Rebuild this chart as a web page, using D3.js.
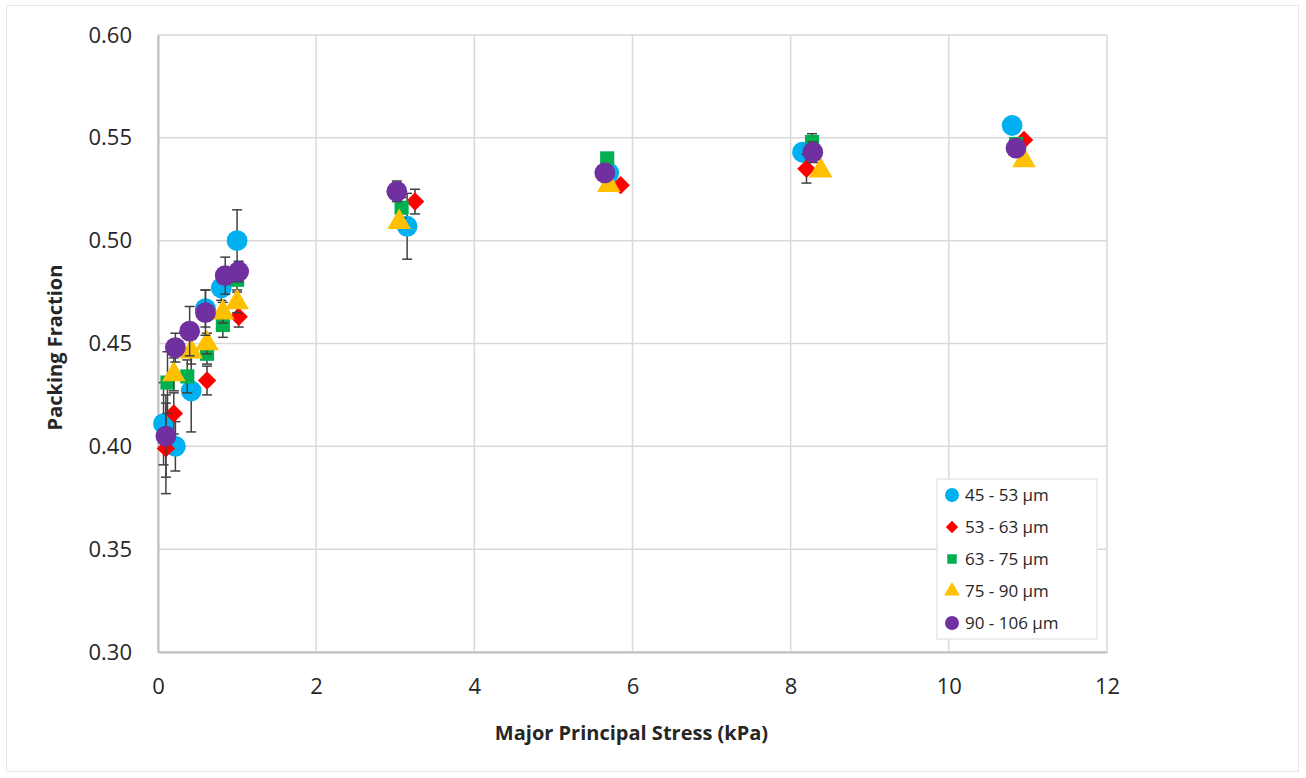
<!DOCTYPE html>
<html>
<head>
<meta charset="utf-8">
<script src="https://cdn.jsdelivr.net/npm/d3@7"></script>
<style>
  body { margin: 0; background: #fff; }
  svg text { font-family: "Open Sans", "Liberation Sans", sans-serif; fill: #262626; }
</style>
</head>
<body>
<svg id="chart" width="1306" height="778"></svg>
<script>
// ---- data ----
var seriesNames = ["45 - 53 \u00b5m", "53 - 63 \u00b5m", "63 - 75 \u00b5m", "75 - 90 \u00b5m", "90 - 106 \u00b5m"];

var stress45 = [0.07, 0.22, 0.42, 0.6, 0.8, 1.0, 3.15, 5.7, 8.15, 10.8];
var pack45   = [0.411, 0.400, 0.427, 0.467, 0.477, 0.500, 0.507, 0.533, 0.543, 0.556];
var err45    = [0.020, 0.012, 0.020, 0.009, 0.006, 0.015, 0.016, 0, 0, 0];

var stress53 = [0.1, 0.2, 0.62, 1.02, 3.25, 5.85, 8.2, 10.95];
var pack53   = [0.399, 0.416, 0.432, 0.463, 0.519, 0.527, 0.535, 0.549];
var err53    = [0.022, 0.010, 0.007, 0.005, 0.006, 0, 0.007, 0];

var stress63 = [0.12, 0.37, 0.62, 0.82, 1.0, 3.08, 5.68, 8.27, 10.85];
var pack63   = [0.431, 0.434, 0.445, 0.459, 0.481, 0.516, 0.540, 0.548, 0.547];
var err63    = [0.015, 0.008, 0.005, 0.006, 0.005, 0.005, 0, 0.004, 0];

var stress75 = [0.2, 0.42, 0.62, 0.82, 1.0, 3.05, 5.7, 8.38, 10.95];
var pack75   = [0.435, 0.446, 0.450, 0.465, 0.470, 0.509, 0.527, 0.534, 0.539];
var err75    = [0.008, 0.006, 0.005, 0.005, 0.005, 0, 0, 0, 0];

var stress90 = [0.1, 0.22, 0.4, 0.6, 0.85, 1.02, 3.02, 5.65, 8.28, 10.85];
var pack90   = [0.405, 0.448, 0.456, 0.465, 0.483, 0.485, 0.524, 0.533, 0.543, 0.545];
var err90    = [0.020, 0.007, 0.012, 0.011, 0.009, 0.005, 0.005, 0, 0.005, 0];

var xTicks = [0, 2, 4, 6, 8, 10, 12];
var yTicks = [0.30, 0.35, 0.40, 0.45, 0.50, 0.55, 0.60];

var colors = ["#00B0F0", "#FF0000", "#00B050", "#FFC000", "#7030A0"];
// 다이아몬드는 정사각형을 45도 회전
var shapes = [d3.symbolCircle, d3.symbolSquare, d3.symbolSquare, d3.symbolTriangle, d3.symbolCircle];
var rotates = [0, 45, 0, 0, 0];
var sizes  = [340, 170, 200, 240, 340];

var series = [
  { xs: stress45, ys: pack45, es: err45 },
  { xs: stress53, ys: pack53, es: err53 },
  { xs: stress63, ys: pack63, es: err63 },
  { xs: stress75, ys: pack75, es: err75 },
  { xs: stress90, ys: pack90, es: err90 }
].map(function(s, i) {
  return {
    name: seriesNames[i],
    points: s.xs.map(function(x, j) { return { x: x, y: s.ys[j], e: s.es[j] }; })
  };
});

// ---- layout ----
var svg = d3.select("#chart");
svg.append("rect").attr("x", 0).attr("y", 0).attr("width", 1306).attr("height", 778).attr("fill", "#fff");
svg.append("rect").attr("x", 6.5).attr("y", 5.5).attr("width", 1292).attr("height", 766)
  .attr("fill", "none").attr("stroke", "#e6e6e6");

var plotL = 158, plotR = 1107, plotT = 35, plotB = 652;

var x = d3.scaleLinear().domain([0, 12]).range([plotL, plotR]);
var y = d3.scaleLinear().domain([0.30, 0.60]).range([plotB, plotT]);

// 격자
svg.append("g").selectAll("line").data(xTicks).enter().append("line")
  .attr("x1", d => x(d)).attr("x2", d => x(d))
  .attr("y1", plotT).attr("y2", plotB)
  .attr("stroke", "#d9d9d9").attr("stroke-width", 1.5);
svg.append("g").selectAll("line").data(yTicks).enter().append("line")
  .attr("x1", plotL).attr("x2", plotR)
  .attr("y1", d => y(d)).attr("y2", d => y(d))
  .attr("stroke", "#d9d9d9").attr("stroke-width", 1.5);

// axes
var xAxis = svg.append("g")
  .attr("transform", `translate(0,${plotB})`)
  .call(d3.axisBottom(x).tickValues(xTicks).tickSize(0).tickPadding(26).tickFormat(d3.format("d")));
var yAxis = svg.append("g")
  .attr("transform", `translate(${plotL},0)`)
  .call(d3.axisLeft(y).tickValues(yTicks).tickSize(0).tickPadding(26).tickFormat(d3.format(".2f")));
[xAxis, yAxis].forEach(function(a) {
  a.select(".domain").attr("stroke", "#bfbfbf").attr("stroke-width", 2);
  a.selectAll("text").style("font-size", "22px").style("fill", "#262626");
});

// axis titles
svg.append("text")
  .attr("x", (plotL + plotR) / 2 - 1)
  .attr("y", 740)
  .attr("text-anchor", "middle")
  .style("font-size", "20px")
  .style("font-weight", "bold")
  .text("Major Principal Stress (kPa)");

svg.append("text")
  .attr("transform", `translate(62,${(plotT + plotB) / 2 + 4}) rotate(-90)`)
  .attr("text-anchor", "middle")
  .style("font-size", "20px")
  .style("font-weight", "bold")
  .text("Packing Fraction");

// series: error bars then markers
series.forEach(function(s, i) {
  var g = svg.append("g");
  var eb = s.points.filter(d => d.e > 0);
  g.selectAll(".eb").data(eb).enter().append("line")
    .attr("x1", d => x(d.x)).attr("x2", d => x(d.x))
    .attr("y1", d => y(d.y - d.e)).attr("y2", d => y(d.y + d.e))
    .attr("stroke", "#404040").attr("stroke-width", 1.5);
  g.selectAll(".capLo").data(eb).enter().append("line")
    .attr("x1", d => x(d.x) - 5).attr("x2", d => x(d.x) + 5)
    .attr("y1", d => y(d.y - d.e)).attr("y2", d => y(d.y - d.e))
    .attr("stroke", "#404040").attr("stroke-width", 1.5);
  g.selectAll(".capHi").data(eb).enter().append("line")
    .attr("x1", d => x(d.x) - 5).attr("x2", d => x(d.x) + 5)
    .attr("y1", d => y(d.y + d.e)).attr("y2", d => y(d.y + d.e))
    .attr("stroke", "#404040").attr("stroke-width", 1.5);

  g.selectAll("path").data(s.points).enter().append("path")
    .attr("transform", d => `translate(${x(d.x)},${y(d.y)}) rotate(${rotates[i]})`)
    .attr("d", d3.symbol().type(shapes[i]).size(sizes[i]))
    .attr("fill", colors[i]);
});

// legend
var lg = svg.append("g").attr("transform", "translate(937,479)");
lg.append("rect").attr("width", 160).attr("height", 160)
  .attr("fill", "#fff").attr("stroke", "#d9d9d9");
var item = lg.selectAll(".item").data(seriesNames).enter().append("g")
  .attr("transform", (d, i) => `translate(15,${16 + i * 32})`);
item.append("path")
  .attr("transform", (d, i) => `rotate(${rotates[i]})`)
  .attr("d", (d, i) => d3.symbol().type(shapes[i]).size(sizes[i] * 0.45)())
  .attr("fill", (d, i) => colors[i]);
item.append("text")
  .attr("x", 13)
  .attr("dy", "0.35em")
  .style("font-size", "17px")
  .text(d => d);
</script>
</body>
</html>
